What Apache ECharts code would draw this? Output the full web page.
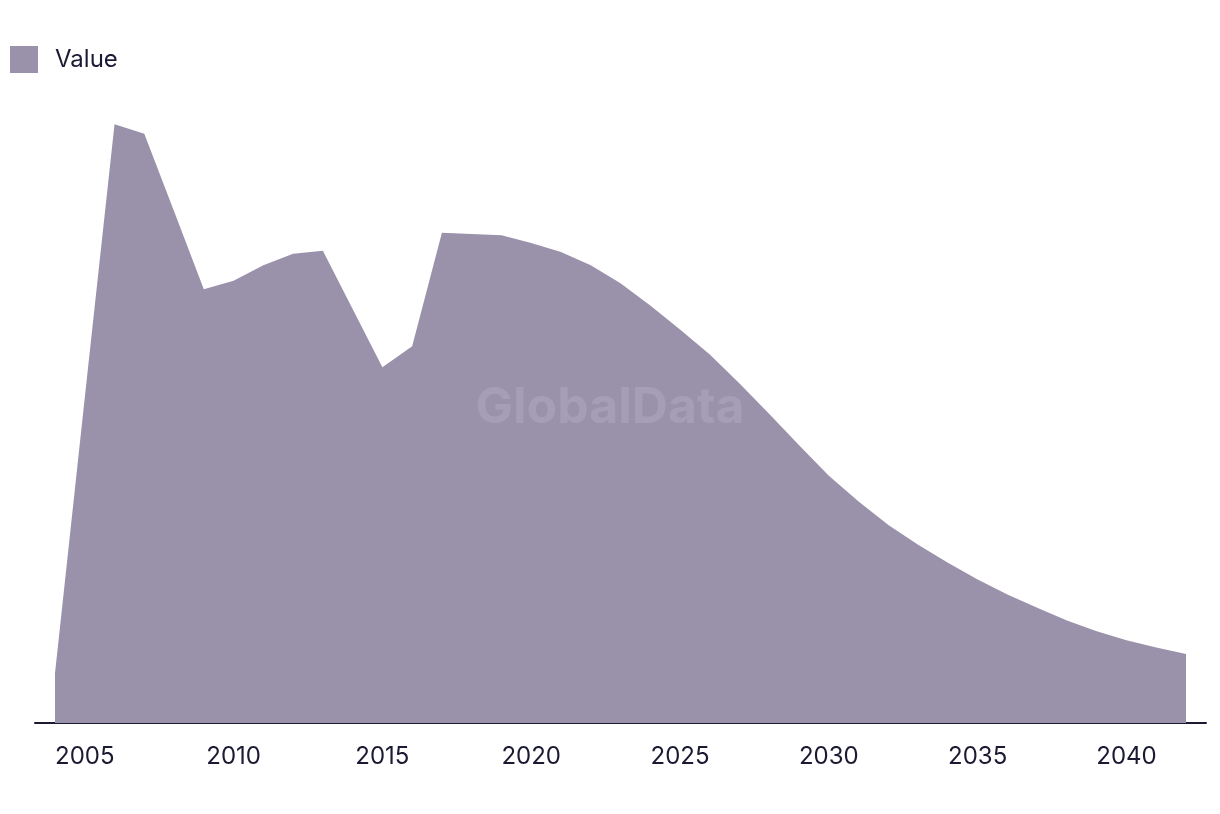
<!DOCTYPE html>
<html>
<head>
<meta charset="utf-8">
<script src="https://cdn.jsdelivr.net/npm/echarts@6/dist/echarts.min.js"></script>
<style>html,body{margin:0;padding:0;background:#fff;}#c{width:1220px;height:814px;}</style>
</head>
<body>
<div id="c"></div>
<script>
const years = [2004,2005,2006,2007,2008,2009,2010,2011,2012,2013,2014,2015,2016,2017,2018,2019,2020,2021,2022,2023,2024,2025,2026,2027,2028,2029,2030,2031,2032,2033,2034,2035,2036,2037,2038,2039,2040,2041,2042];
const values = [8.3,54.2,99.8,98.2,85.3,72.3,73.7,76.3,78.2,78.7,69.0,59.3,62.8,81.7,81.5,81.3,80.0,78.5,76.3,73.3,69.6,65.6,61.4,56.6,51.5,46.3,41.2,36.9,33.0,29.7,26.7,23.9,21.4,19.2,17.1,15.3,13.8,12.6,11.5];
const seriesName = 'Value';
const labelStep = 5;

const FONT = 'Inter, "Noto Sans", sans-serif';
const TEXT = '#1b1a33';
const FILL = '#9a91aa';

const chart = echarts.init(document.getElementById('c'), null, {renderer: 'canvas'});
chart.setOption({
  animation: false,
  backgroundColor: '#ffffff',
  legend: {
    left: 5, top: 41,
    itemWidth: 28, itemHeight: 27,
    icon: 'rect',
    data: [seriesName],
    textStyle: {fontFamily: FONT, fontSize: 24, color: TEXT, padding: [0,0,0,12]}
  },
  grid: [
    {left: 55, right: 34, top: 123, bottom: 91, containLabel: false},
    {left: 35, right: 14, top: 700, bottom: 91, containLabel: false}
  ],
  xAxis: [
    {
      gridIndex: 0, type: 'category', data: years, boundaryGap: false,
      axisLine: {show: false}, axisTick: {show: false}, splitLine: {show: false},
      axisLabel: {
        interval: function (idx, val) { return Number(val) % labelStep === 0; },
        fontFamily: FONT, fontSize: 24, color: TEXT, margin: 22
      }
    },
    {
      gridIndex: 1, type: 'value', min: 0, max: 1,
      axisLine: {show: true, lineStyle: {color: TEXT, width: 2}},
      axisTick: {show: false}, axisLabel: {show: false}, splitLine: {show: false}
    }
  ],
  yAxis: [
    {gridIndex: 0, type: 'value', min: 0, max: 100, show: false, splitLine: {show: false}},
    {gridIndex: 1, type: 'value', min: 0, max: 1, show: false}
  ],
  series: [{
    name: seriesName, type: 'line', xAxisIndex: 0, yAxisIndex: 0,
    data: values, showSymbol: false, symbol: 'none',
    lineStyle: {width: 0, color: FILL},
    itemStyle: {color: FILL},
    areaStyle: {color: FILL, opacity: 1}
  }],
  graphic: [{
    type: 'text', left: 'center', top: 383, z: 100,
    style: {text: 'GlobalData', font: 'bold 50px ' + FONT, fill: 'rgba(255,255,255,0.12)'}
  }]
});
</script>
</body>
</html>
